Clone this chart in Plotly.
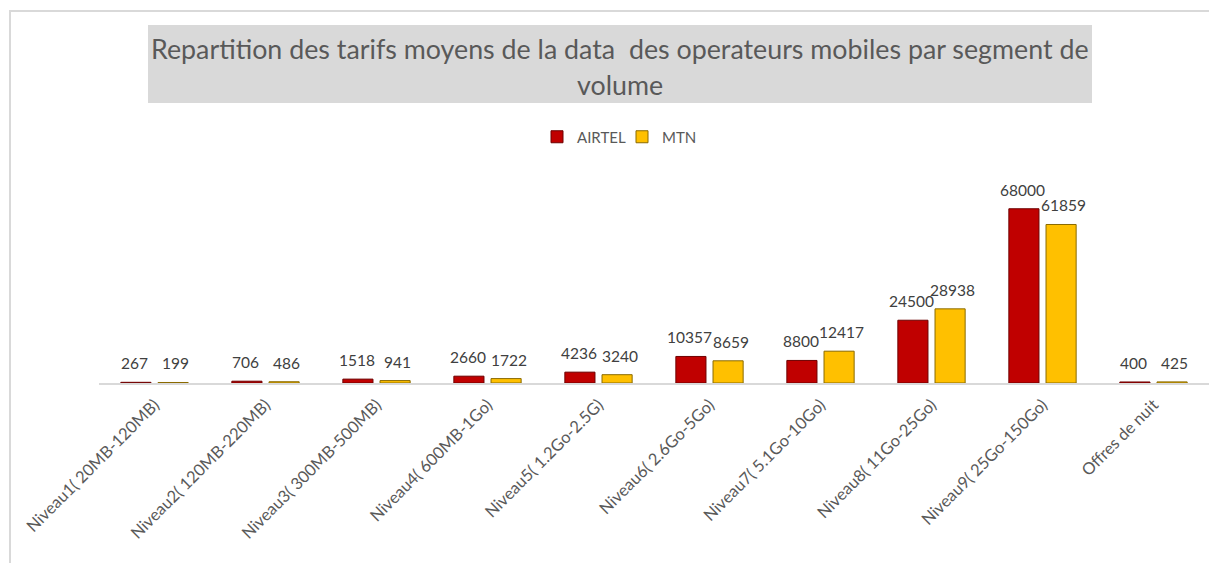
import plotly.graph_objects as go

categories = [
    "Niveau1( 20MB-120MB)",
    "Niveau2( 120MB-220MB)",
    "Niveau3( 300MB-500MB)",
    "Niveau4( 600MB-1Go)",
    "Niveau5( 1.2Go-2.5G)",
    "Niveau6( 2.6Go-5Go)",
    "Niveau7( 5.1Go-10Go)",
    "Niveau8( 11Go-25Go)",
    "Niveau9( 25Go-150Go)",
    "Offres de nuit",
]
airtel = [267, 706, 1518, 2660, 4236, 10357, 8800, 24500, 68000, 400]
mtn = [199, 486, 941, 1722, 3240, 8659, 12417, 28938, 61859, 425]

OFF = 8  # page body margin
W, H = 1217 - OFF, 563 - OFF
ML, MR, MT, MB = 91, 8, 170, 180
PW = W - ML - MR
PH = H - MT - MB


def px(x):
    return (x - OFF - ML) / PW


def py(y):
    return (H - MB - (y - OFF)) / PH


FONT = "Lato, 'Open Sans', sans-serif"

fig = go.Figure()
fig.add_trace(go.Bar(
    name="AIRTEL", x=categories, y=airtel,
    marker=dict(color="#C00000", line=dict(color="#6e0000", width=1)),
))
fig.add_trace(go.Bar(
    name="MTN", x=categories, y=mtn,
    marker=dict(color="#FFC000", line=dict(color="#8a6a00", width=1)),
))

annotations = []
for cat, a, m in zip(categories, airtel, mtn):
    annotations.append(dict(x=cat, y=a, xref="x", yref="y", text=str(a), showarrow=False,
                            xanchor="center", yanchor="middle",
                            xshift=-20, yshift=19, font=dict(size=15.5, color="#404040", family=FONT)))
    annotations.append(dict(x=cat, y=m, xref="x", yref="y", text=str(m), showarrow=False,
                            xanchor="center", yanchor="middle",
                            xshift=21, yshift=19, font=dict(size=15.5, color="#404040", family=FONT)))

annotations.append(dict(x=px(620), y=py(49), xref="paper", yref="paper", showarrow=False,
                        xanchor="center", yanchor="middle",
                        text="Repartition des tarifs moyens de la data  des operateurs mobiles par segment de",
                        font=dict(size=26.8, color="#595959", family=FONT)))
annotations.append(dict(x=px(620), y=py(85), xref="paper", yref="paper", showarrow=False,
                        xanchor="center", yanchor="middle",
                        text="volume", font=dict(size=26.8, color="#595959", family=FONT)))

shapes = [
    dict(type="rect", xref="paper", yref="paper", x0=px(148), x1=px(1092), y0=py(103), y1=py(25),
         fillcolor="#D9D9D9", line=dict(width=0), layer="below"),
    dict(type="rect", xref="paper", yref="paper", x0=px(10), x1=px(1240), y0=py(620), y1=py(11),
         fillcolor="rgba(0,0,0,0)", line=dict(color="#D9D9D9", width=2), layer="below"),
]

fig.update_layout(
    width=W, height=H,
    margin=dict(l=ML, r=MR, t=MT, b=MB, pad=0),
    paper_bgcolor="white", plot_bgcolor="white",
    barmode="group", bargap=0.33, bargroupgap=0.19,
    showlegend=True,
    legend=dict(orientation="h", x=px(622), xanchor="center", y=py(137), yanchor="middle",
                font=dict(size=15, color="#595959", family=FONT), itemwidth=30,
                entrywidth=40, entrywidthmode="pixels", tracegroupgap=0),
    annotations=annotations,
    shapes=shapes,
    font=dict(family=FONT),
)
fig.update_xaxes(showline=True, linecolor="#D9D9D9", linewidth=1.5, ticks="", tickangle=-45,
                 ticklabelstandoff=4,
                 tickfont=dict(size=16.5, color="#595959", family=FONT), showgrid=False)
fig.update_yaxes(visible=False, range=[0, 80000], showgrid=False)

fig.write_html("out.html")
